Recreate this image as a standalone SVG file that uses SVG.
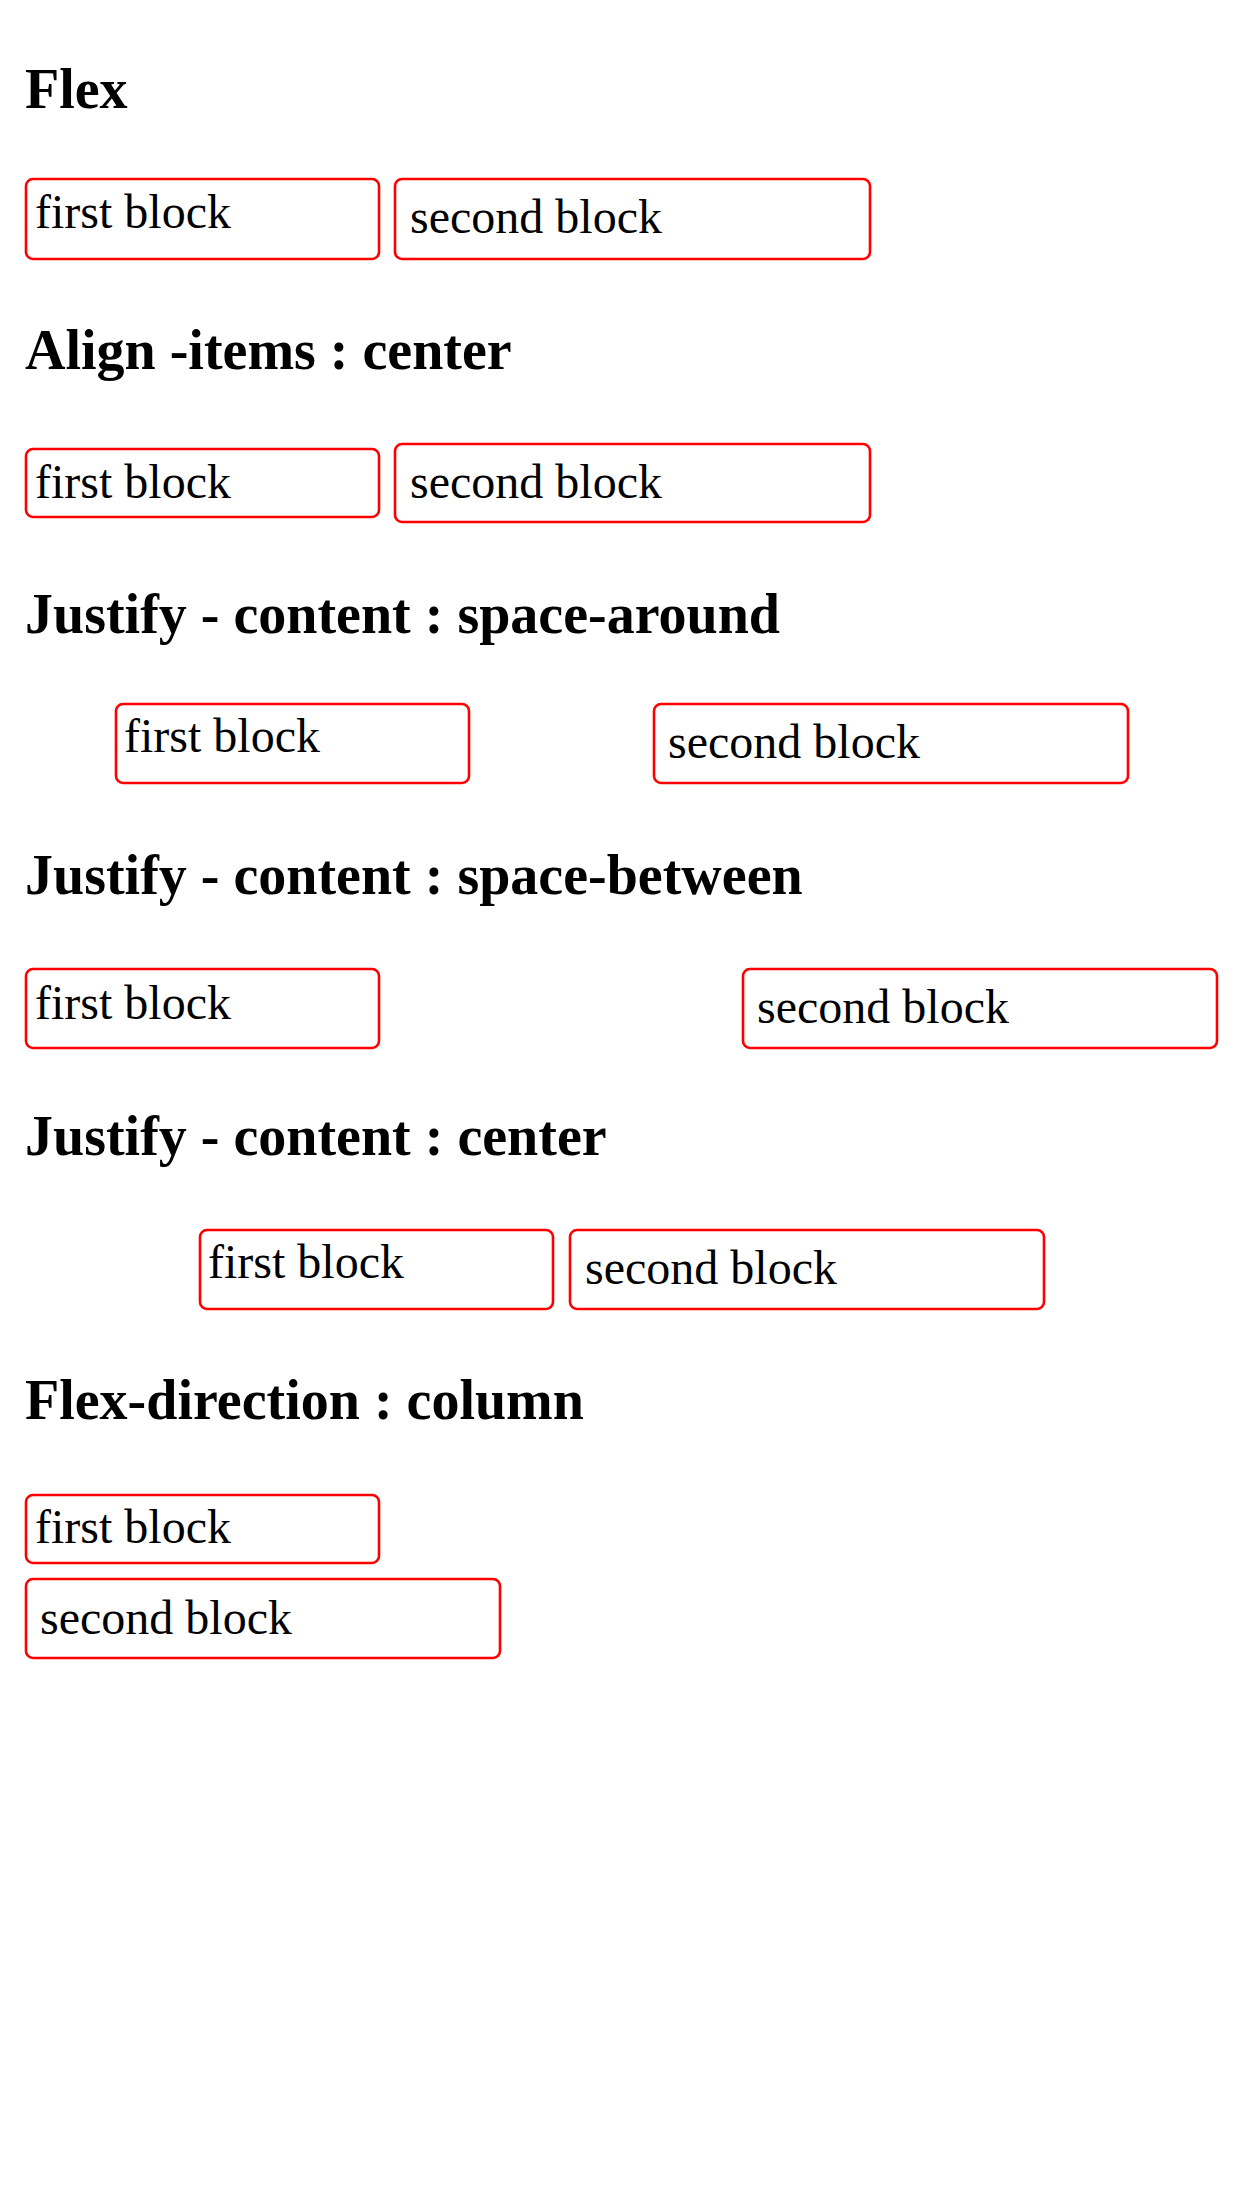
<svg xmlns="http://www.w3.org/2000/svg" width="1242" height="2208" viewBox="0 0 1242 2208">
<style>
.h{font-family:"Liberation Serif","Times New Roman",serif;font-weight:bold;font-size:56px;fill:#000}
.t{font-family:"Liberation Serif","Times New Roman",serif;font-size:48px;fill:#000}
.b{fill:none;stroke:#ff0000;stroke-width:2.6}
</style>
<rect x="0" y="0" width="1242" height="2208" fill="#fff"/>
<g id="sec-flex">
<text class="h" x="25" y="108">Flex</text>
<g id="flex-first"><rect class="b" x="26" y="179" width="353" height="80" rx="7"/><text class="t" x="35" y="228">first block</text></g>
<g id="flex-second"><rect class="b" x="395" y="179" width="475" height="80" rx="7"/><text class="t" x="410" y="233">second block</text></g>
</g>
<g id="sec-align">
<text class="h" x="25" y="369">Align -items : center</text>
<g id="align-first"><rect class="b" x="26" y="449" width="353" height="68" rx="7"/><text class="t" x="35" y="498">first block</text></g>
<g id="align-second"><rect class="b" x="395" y="444" width="475" height="78" rx="7"/><text class="t" x="410" y="498">second block</text></g>
</g>
<g id="sec-around">
<text class="h" x="25" y="633">Justify - content : space-around</text>
<g id="around-first"><rect class="b" x="116" y="704" width="353" height="79" rx="7"/><text class="t" x="124" y="752">first block</text></g>
<g id="around-second"><rect class="b" x="654" y="704" width="474" height="79" rx="7"/><text class="t" x="668" y="758">second block</text></g>
</g>
<g id="sec-between">
<text class="h" x="25" y="894">Justify - content : space-between</text>
<g id="between-first"><rect class="b" x="26" y="969" width="353" height="79" rx="7"/><text class="t" x="35" y="1019">first block</text></g>
<g id="between-second"><rect class="b" x="743" y="969" width="474" height="79" rx="7"/><text class="t" x="757" y="1023">second block</text></g>
</g>
<g id="sec-center">
<text class="h" x="25" y="1155">Justify - content : center</text>
<g id="center-first"><rect class="b" x="200" y="1230" width="353" height="79" rx="7"/><text class="t" x="208" y="1278">first block</text></g>
<g id="center-second"><rect class="b" x="570" y="1230" width="474" height="79" rx="7"/><text class="t" x="585" y="1284">second block</text></g>
</g>
<g id="sec-column">
<text class="h" x="25" y="1419">Flex-direction : column</text>
<g id="column-first"><rect class="b" x="26" y="1495" width="353" height="68" rx="7"/><text class="t" x="35" y="1543">first block</text></g>
<g id="column-second"><rect class="b" x="26" y="1579" width="474" height="79" rx="7"/><text class="t" x="40" y="1634">second block</text></g>
</g>
<g id="connectors"></g>
</svg>
